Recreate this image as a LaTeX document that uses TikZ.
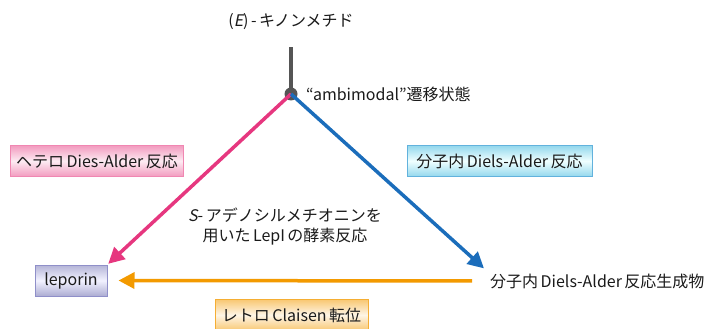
\documentclass[tikz,border=0pt]{standalone}
\usepackage{fontspec}
\setmainfont{Noto Sans CJK JP}[AutoFakeSlant=0.2]
\usetikzlibrary{arrows.meta,calc}
\definecolor{pinkc}{HTML}{E6377F}
\definecolor{bluec}{HTML}{1B6DBB}
\definecolor{orangec}{HTML}{F39A00}
\definecolor{greyc}{HTML}{555555}
\definecolor{txt}{HTML}{1A1A1A}
\newcommand{\gp}{\hspace{2.5pt}}
\tikzset{
  lbl/.style={font=\fontsize{16}{19}\selectfont, text=txt, inner sep=0pt},
  box/.style={lbl, minimum height=31pt, inner xsep=6pt, line width=1pt},
  pinkbox/.style={box, draw=pinkc!60, top color=pinkc!50, bottom color=pinkc!50, middle color=pinkc!10},
  bluebox/.style={box, draw=cyan!60!bluec!70, top color=cyan!40!bluec!45, bottom color=cyan!40!bluec!45, middle color=cyan!6},
  lepbox/.style={box, draw=blue!35!gray!65, top color=blue!30!gray!45, bottom color=blue!30!gray!50, middle color=blue!5},
  orbox/.style={box, draw=orangec!80, top color=orangec!55, bottom color=orangec!55, middle color=orangec!10},
  arr/.style={line width=3.5pt, -{Triangle[length=16pt,width=16pt]}},
}
\begin{document}
\begin{tikzpicture}[x=1pt,y=-1pt]
\useasboundingbox (0,0) rectangle (710,329);
\node[lbl] (t) at (291,22) {(\textit{E})\gp-\gp キノンメチド};
\node[circle, fill=greyc, minimum size=13pt, inner sep=0pt] (ts) at (291,94) {};
\node[lbl, anchor=west] (amb) at (306,94) {“ambimodal”遷移状態};
\draw[greyc, line width=3.5pt] ($(t.south)+(0,17)$) -- (ts.center);

\node[lepbox, minimum width=72pt] (lep) at (71,280.5) {leporin};
\node[lbl, anchor=west] (prod) at (490,281) {分子内\gp Diels-Alder\gp 反応生成物};

\draw[arr, pinkc, shorten >=1pt] (ts.center) -- (lep.north east);
\draw[arr, bluec] (ts.center) -- ($(prod.north west)+(-6,-5)$);
\draw[arr, orangec, shorten <=18pt, shorten >=11pt] (prod.west) -- (lep.east);

\node[pinkbox, minimum width=170pt] (hda) at (97,161) {ヘテロ\gp Dies-Alder\gp 反応};
\node[bluebox, minimum width=185pt] (ida) at (499.5,161) {分子内\gp Diels-Alder\gp 反応};
\node[orbox, minimum width=153pt] (rc) at (291.5,315) {レトロ\gp Claisen\gp 転位};
\node[lbl, align=center, font=\fontsize{16}{20}\selectfont] (enz) at (285,227) {\textit{S}-\gp アデノシルメチオニンを\\用いた\gp LepI\gp の酵素反応};
\end{tikzpicture}
\end{document}
